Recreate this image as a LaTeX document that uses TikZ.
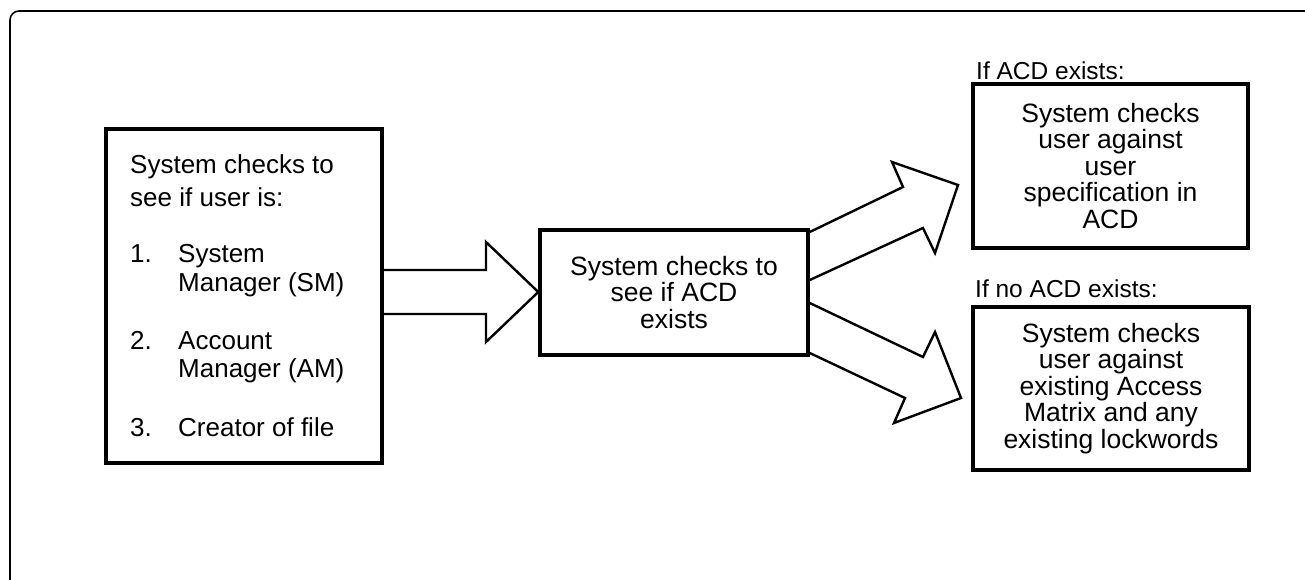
\documentclass[tikz,border=0pt]{standalone}
\usepackage{fontspec}
\setmainfont{Liberation Sans}
\begin{document}
\begin{tikzpicture}[x=1pt,y=-1pt,
  txt/.style={font=\fontsize{26}{26.5}\selectfont, inner sep=0pt},
  lbl/.style={font=\fontsize{24.5}{26}\selectfont, inner sep=0pt},
  box/.style={draw, line width=3.5pt, inner sep=0pt, align=center,
    font=\fontsize{26.5}{26.5}\selectfont},
  blockarrow/.style={draw, line width=2.4pt, line join=miter},
  frame/.style={draw, line width=1.6pt, rounded corners=9pt}]
\useasboundingbox (0,0) rectangle (1305,580);
% outer frame (open at right and bottom)
\path[frame] (10,580) -- (10,11) -- (1305,11);
% boxes
\node[box, minimum width=276pt, minimum height=334pt] (L) at (244,296) {};
\node[box, minimum width=268pt, minimum height=125pt] (M) at (674,292.5)
  {System checks to\\see if ACD\\exists};
\node[box, minimum width=275pt, minimum height=164pt] (T) at (1110.5,166)
  {System checks\\user against\\user\\specification in\\ACD};
\node[box, minimum width=276pt, minimum height=163pt] (B) at (1111,388.5)
  {System checks\\user against\\existing Access\\Matrix and any\\existing lockwords};
% left box text
\node[txt, anchor=base west] (h1) at (130,174) {System checks to};
\node[txt, anchor=base west] (h2) at (130,206) {see if user is:};
\node[txt, anchor=base west] (n1) at (130,262) {1.};
\node[txt, anchor=base west] (i1a) at (178,262) {System};
\node[txt, anchor=base west] (i1b) at (178,291) {Manager (SM)};
\node[txt, anchor=base west] (n2) at (130,349) {2.};
\node[txt, anchor=base west] (i2a) at (178,349) {Account};
\node[txt, anchor=base west] (i2b) at (178,377) {Manager (AM)};
\node[txt, anchor=base west] (n3) at (130,436) {3.};
\node[txt, anchor=base west] (i3) at (178,436) {Creator of file};
% labels
\node[lbl, anchor=base west] (lt) at (976,80) {If ACD exists:};
\node[lbl, anchor=base west] (lb) at (975,297) {If no ACD exists:};
% block arrows
\path[blockarrow] (L.east |- 0,270) -- (486,270) -- (486,242) -- (M.west |- 0,292)
  -- (486,342) -- (486,314) -- (L.east |- 0,314);
\path[blockarrow] (M.east |- 0,232) -- (903,187) -- (892,162) -- (958,185)
  -- (935,253) -- (923,228) -- (M.east |- 0,280);
\path[blockarrow] (M.east |- 0,303) -- (923,357) -- (935,332) -- (961,398)
  -- (894,423) -- (905,398) -- (M.east |- 0,353);
\end{tikzpicture}
\end{document}
